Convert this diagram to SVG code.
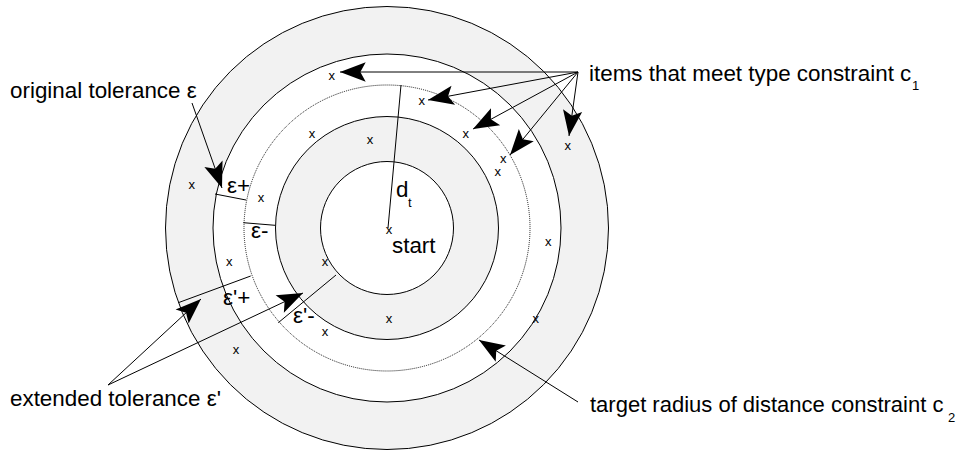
<svg xmlns="http://www.w3.org/2000/svg" width="962" height="453" viewBox="0 0 962 453">
<style>
.ring{stroke:#000;stroke-width:1}
.g{fill:#f2f2f2}
.w{fill:#fff}
.ln{stroke:#000;stroke-width:1;fill:none}
.ar{stroke:#000;stroke-width:1;fill:none;marker-end:url(#ah)}
.t{font-family:"Liberation Sans",Arial,sans-serif;font-size:22.4px;fill:#000}
.s{font-family:"Liberation Sans",Arial,sans-serif;font-size:13px;fill:#000}
.x{font-family:"Liberation Sans",Arial,sans-serif;font-size:13px;fill:#000;text-anchor:middle}
</style>
<defs>
<marker id="ah" markerUnits="userSpaceOnUse" orient="auto" refX="0" refY="0" markerWidth="30" markerHeight="30" viewBox="-26 -12 28 24" overflow="visible">
<path d="M0,0 L-24,-9 L-19,0 L-24,9 Z" fill="#000"/>
</marker>
</defs>
<g id="rings">
<circle class="ring g" cx="387" cy="228" r="221.5"/>
<circle class="ring w" cx="387" cy="228" r="174"/>
<circle cx="387" cy="228" r="143" fill="none" stroke="#000" stroke-width="0.9" stroke-dasharray="1,1"/>
<circle class="ring g" cx="387" cy="228" r="111.5"/>
<circle class="ring w" cx="387" cy="228" r="66.5"/>
</g>
<g id="connectors">
<line class="ln" x1="388" y1="228" x2="401" y2="85"/>
<line class="ln" x1="215" y1="194" x2="246" y2="200"/>
<line class="ln" x1="243.3" y1="222.7" x2="275" y2="225.3"/>
<line class="ln" x1="178.3" y1="302.7" x2="250.7" y2="276"/>
<line class="ln" x1="278.3" y1="322.7" x2="336" y2="275"/>
<line class="ar" x1="192" y1="103" x2="222" y2="188"/>
<line class="ar" x1="578" y1="72" x2="340" y2="72"/>
<line class="ar" x1="578" y1="72" x2="428" y2="100"/>
<line class="ar" x1="578" y1="72" x2="473" y2="129"/>
<line class="ar" x1="578" y1="72" x2="510" y2="155"/>
<line class="ar" x1="578" y1="72" x2="569" y2="136"/>
<line class="ar" x1="108" y1="385" x2="201" y2="299"/>
<line class="ar" x1="108" y1="385" x2="303" y2="293"/>
<line class="ar" x1="578" y1="402" x2="479" y2="340"/>
</g>
<g id="items">
<text class="x" x="331.7" y="79.5">x</text>
<text class="x" x="421.7" y="105">x</text>
<text class="x" x="312" y="137.5">x</text>
<text class="x" x="370" y="143.5">x</text>
<text class="x" x="465.7" y="137.5">x</text>
<text class="x" x="567.7" y="150">x</text>
<text class="x" x="503.3" y="162.5">x</text>
<text class="x" x="497.7" y="175.5">x</text>
<text class="x" x="191.7" y="188.5">x</text>
<text class="x" x="261" y="201.5">x</text>
<text class="x" x="389" y="233.5">x</text>
<text class="x" x="548.3" y="245.5">x</text>
<text class="x" x="229.3" y="265.5">x</text>
<text class="x" x="325" y="265.5">x</text>
<text class="x" x="389" y="322.5">x</text>
<text class="x" x="535.7" y="322.5">x</text>
<text class="x" x="325" y="335.5">x</text>
<text class="x" x="236" y="354">x</text>
</g>
<g id="labels">
<text class="t" x="10" y="98">original tolerance ε</text>
<text class="t" x="589" y="81">items that meet type constraint c<tspan class="s" x="912" y="90">1</tspan></text>
<text class="t" x="10" y="406">extended tolerance ε'</text>
<text class="t" x="590" y="412" style="font-size:22px">target radius of distance constraint c<tspan class="s" x="948" y="422">2</tspan></text>
<text class="t" x="396" y="197">d</text>
<text class="s" x="408" y="207">t</text>
<text class="t" x="392" y="253">start</text>
<text class="t" x="227" y="193">ε+</text>
<text class="t" x="251" y="238">ε-</text>
<text class="t" x="223" y="305">ε'+</text>
<text class="t" x="293" y="323">ε'-</text>
</g>
</svg>
